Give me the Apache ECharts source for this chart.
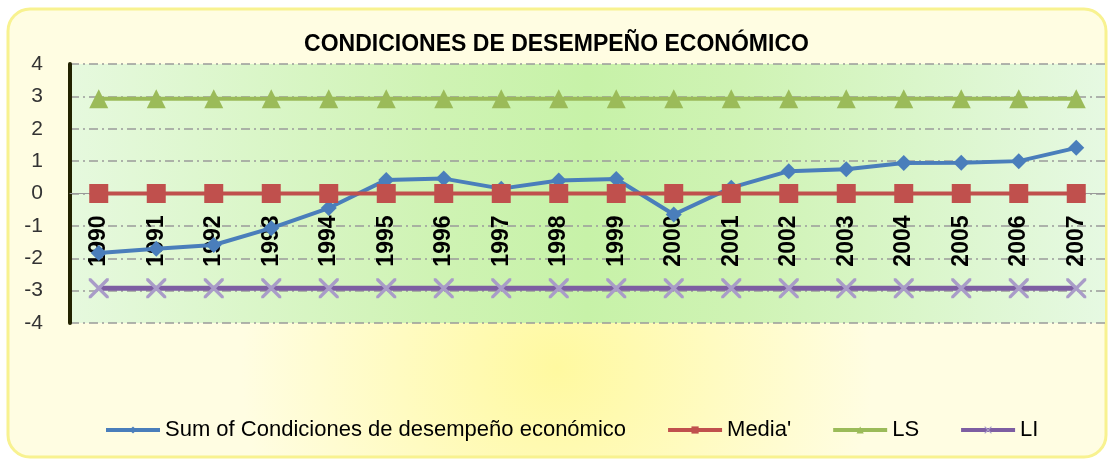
<!DOCTYPE html>
<html>
<head>
<meta charset="utf-8">
<style>
  html, body { margin: 0; padding: 0; background: #fff; }
  #main { width: 1113px; height: 462px; }
</style>
<script src="https://cdn.jsdelivr.net/npm/echarts@6/dist/echarts.min.js"></script>
</head>
<body>
<div id="main"></div>
<script>
// datos
const YEARS = ['1990','1991','1992','1993','1994','1995','1996','1997','1998','1999',
               '2000','2001','2002','2003','2004','2005','2006','2007'];
const SUMA  = [-1.84,-1.71,-1.59,-1.07,-0.45,0.42,0.46,0.15,0.40,0.45,
               -0.65,0.18,0.69,0.75,0.94,0.95,1.00,1.41];
const MEDIA = [0,0,0,0,0,0,0,0,0,0,0,0,0,0,0,0,0,0];
const LS    = [2.93,2.93,2.93,2.93,2.93,2.93,2.93,2.93,2.93,2.93,2.93,2.93,2.93,2.93,2.93,2.93,2.93,2.93];
const LI    = [-2.93,-2.93,-2.93,-2.93,-2.93,-2.93,-2.93,-2.93,-2.93,-2.93,-2.93,-2.93,-2.93,-2.93,-2.93,-2.93,-2.93,-2.93];
const Y_TICKS = { min: -4, max: 4, interval: 1 };

const FONT = '"Liberation Sans", Arial, sans-serif';
// cruz tipo excel
const CROSS = 'path://M0,0L1.2,0L10,8.8L10,10L8.8,10L0,1.2Z M8.8,0L10,0L10,1.2L1.2,10L0,10L0,8.8Z';

const GRID = { left: 70, right: 8, top: 64, bottom: 139 };
const plotH = 462 - GRID.top - GRID.bottom;
// el eje x se dibuja en y=0 (onZero no mueve las etiquetas en v6)
const zeroOffset = -plotH * (0 - Y_TICKS.min) / (Y_TICKS.max - Y_TICKS.min);

const chart = echarts.init(document.getElementById('main'), null, { renderer: 'canvas' });

chart.setOption({
  backgroundColor: '#ffffff',
  animation: false,
  graphic: [{
    type: 'rect', z: -10, silent: true,
    shape: { x: 8, y: 9, width: 1098, height: 448, r: 22 },
    style: {
      fill: new echarts.graphic.RadialGradient(0.5, 0.8, 0.7, [
        { offset: 0, color: '#fff9a0' },
        { offset: 1, color: '#fffde2' }
      ]),
      stroke: '#f8f290', lineWidth: 3
    }
  }],
  title: {
    text: 'CONDICIONES DE DESEMPEÑO ECONÓMICO',
    left: 'center', top: 28,
    textStyle: { fontFamily: FONT, fontSize: 23, fontWeight: 'bold', color: '#000' }
  },
  legend: {
    top: 419, left: 104, padding: 0,
    itemWidth: 54, itemHeight: 9, itemGap: 40,
    lineStyle: { width: 4 },
    textStyle: { fontFamily: FONT, fontSize: 22, color: '#000' },
    data: ['Sum of Condiciones de desempeño económico', "Media'", 'LS', 'LI']
  },
  grid: {
    left: GRID.left, right: GRID.right, top: GRID.top, bottom: GRID.bottom,
    show: true, borderWidth: 0,
    backgroundColor: new echarts.graphic.LinearGradient(0, 0, 1, 0, [
      { offset: 0, color: '#e6f9de' },
      { offset: 0.35, color: '#cff3b4' },
      { offset: 0.5, color: '#c7f2a8' },
      { offset: 0.65, color: '#cff3b4' },
      { offset: 1, color: '#e6f9e2' }
    ])
  },
  xAxis: {
    type: 'category', data: YEARS, boundaryGap: true,
    offset: zeroOffset,
    axisLine: { onZero: false, lineStyle: { color: '#999', width: 1 } },
    axisTick: { show: false },
    axisLabel: { rotate: 90, margin: 22, fontFamily: FONT, fontSize: 23, fontWeight: 'bold', color: '#000' }
  },
  yAxis: {
    type: 'value', min: Y_TICKS.min, max: Y_TICKS.max, interval: Y_TICKS.interval,
    axisLine: { show: true, onZero: false, lineStyle: { color: '#222200', width: 4 } },
    axisTick: { show: false },
    axisLabel: { margin: 27, fontFamily: FONT, fontSize: 21, color: '#333' },
    splitLine: { lineStyle: { color: '#9a9a9a', width: 1.5, type: [9, 4, 2, 4] } }
  },
  series: [
    {
      name: 'Sum of Condiciones de desempeño económico', type: 'line', data: SUMA, zlevel: 1,
      symbol: 'diamond', symbolSize: 16,
      itemStyle: { color: '#4a7ebb' }, lineStyle: { color: '#4a7ebb', width: 4 }
    },
    {
      name: "Media'", type: 'line', data: MEDIA, zlevel: 1,
      symbol: 'rect', symbolSize: 19,
      itemStyle: { color: '#c0504d' }, lineStyle: { color: '#c0504d', width: 4 }
    },
    {
      name: 'LS', type: 'line', data: LS, zlevel: 1,
      symbol: 'triangle', symbolSize: 19,
      itemStyle: { color: '#9bbb59' }, lineStyle: { color: '#9bbb59', width: 4 }
    },
    {
      name: 'LI', type: 'line', data: LI, zlevel: 1,
      symbol: CROSS, symbolSize: 20,
      itemStyle: { color: '#a99cc8' }, lineStyle: { color: '#7d5ea2', width: 5 }
    }
  ]
});
</script>
</body>
</html>
